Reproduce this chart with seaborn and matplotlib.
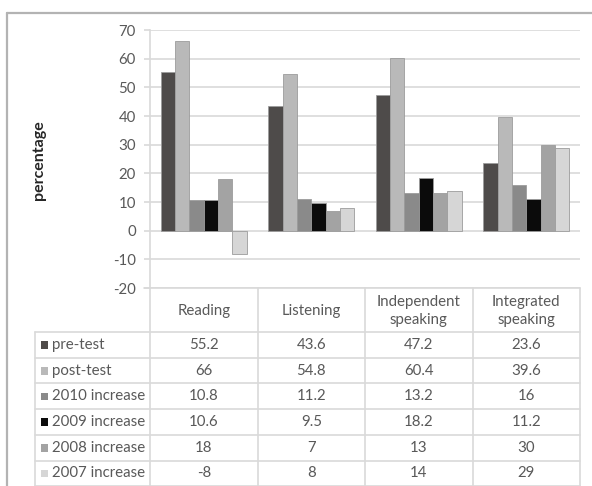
import matplotlib
matplotlib.use("Agg")
import matplotlib.pyplot as plt
import seaborn as sns
import pandas as pd

# Skill areas and series values (percentages)
skills = ["Reading", "Listening", "Independent\nspeaking", "Integrated\nspeaking"]
series = ["pre-test", "post-test", "2010 increase", "2009 increase",
          "2008 increase", "2007 increase"]
pre_test = [55.2, 43.6, 47.2, 23.6]
post_test = [66, 54.8, 60.4, 39.6]
inc_2010 = [10.8, 11.2, 13.2, 16]
inc_2009 = [10.6, 9.5, 18.2, 11.2]
inc_2008 = [18, 7, 13, 30]
inc_2007 = [-8, 8, 14, 29]
y_ticks = [-20, -10, 0, 10, 20, 30, 40, 50, 60, 70]

colors = ["#4f4b49", "#b9b9b9", "#8a8a8a", "#0b0b0b", "#a3a3a3", "#d6d6d6"]

values = [pre_test, post_test, inc_2010, inc_2009, inc_2008, inc_2007]
df = pd.DataFrame(
    [(sk, s, v) for s, vals in zip(series, values) for sk, v in zip(skills, vals)],
    columns=["skill", "series", "value"],
)

sns.set_theme(style="white")
plt.rcParams["font.family"] = ["Lato", "DejaVu Sans"]

W, H = 592, 486
fig = plt.figure(figsize=(W / 100, H / 100), dpi=100)

# pixel-based layout helpers
def box(x0, y0, x1, y1):
    return [x0 / W, 1 - y1 / H, (x1 - x0) / W, (y1 - y0) / H]

grid_c = "#d9d9d9"
text_c = "#595959"
fs = 10.8

ax = fig.add_axes(box(150, 30, 580, 288))
sns.barplot(data=df, x="skill", y="value", hue="series", order=skills,
            hue_order=series, palette=colors, width=0.8, legend=False,
            edgecolor="#9c9c9c", linewidth=0.6, ax=ax, zorder=3)
ax.set_xlim(-0.5, 3.5)
ax.set_ylim(-20, 70)
ax.set_yticks(y_ticks)
ax.set_yticklabels([str(t) for t in y_ticks], fontsize=fs, color=text_c)
ax.set_xticks([])
ax.set_xlabel("")
ax.set_ylabel("")
ax.yaxis.grid(True, color=grid_c, linewidth=1.2, zorder=0)
ax.set_axisbelow(True)
for side in ["top", "right", "bottom"]:
    ax.spines[side].set_visible(False)
ax.spines["left"].set_color(grid_c)
ax.spines["left"].set_linewidth(1.2)
ax.tick_params(axis="y", which="major", left=True, length=4.3, width=1.2,
               color=grid_c, pad=5.8)
ax.patch.set_alpha(0)

fig.text(39 / W, 1 - 160 / H, "percentage", rotation=90, ha="center",
         va="center", fontsize=11.5, fontweight="bold", color="#262626")

# overlay in pixel coordinates for the data table and chart frame
ov = fig.add_axes([0, 0, 1, 1], zorder=-1)
ov.set_xlim(0, W)
ov.set_ylim(H, 0)
ov.axis("off")

# chart frame
ov.plot([7, W], [13, 13], color="#b3b3b3", lw=1.6)
ov.plot([7, 7], [13, H], color="#b3b3b3", lw=1.6)

col_x = [150, 257.5, 365, 472.5, 580]
row_y = [332, 357.7, 383.4, 409.1, 434.8, 460.5, 486.2]
tbl_kw = dict(color=grid_c, lw=1.2)

# header row: vertical separators below the axis
for x in col_x:
    ov.plot([x, x], [288, H], **tbl_kw)
for y in row_y:
    ov.plot([35, 580], [y, y], **tbl_kw)
ov.plot([35, 35], [332, H], **tbl_kw)
ov.plot([144, 580], [288, 288], **tbl_kw)

for i, sk in enumerate(skills):
    cx = (col_x[i] + col_x[i + 1]) / 2
    ov.text(cx, 311, sk, ha="center", va="center", fontsize=fs,
            color=text_c, linespacing=1.3)

for r, (name, vals, c) in enumerate(zip(series, values, colors)):
    cy = (row_y[r] + row_y[r + 1]) / 2
    ov.add_patch(plt.Rectangle((40.5, cy - 3.5), 7.5, 7.5, color=c, lw=0))
    ov.text(52, cy, name, ha="left", va="center", fontsize=fs, color=text_c)
    for i, v in enumerate(vals):
        cx = (col_x[i] + col_x[i + 1]) / 2
        ov.text(cx, cy, f"{v:g}", ha="center", va="center", fontsize=fs,
                color=text_c)

fig.savefig("out.png", dpi=100, facecolor="white")
